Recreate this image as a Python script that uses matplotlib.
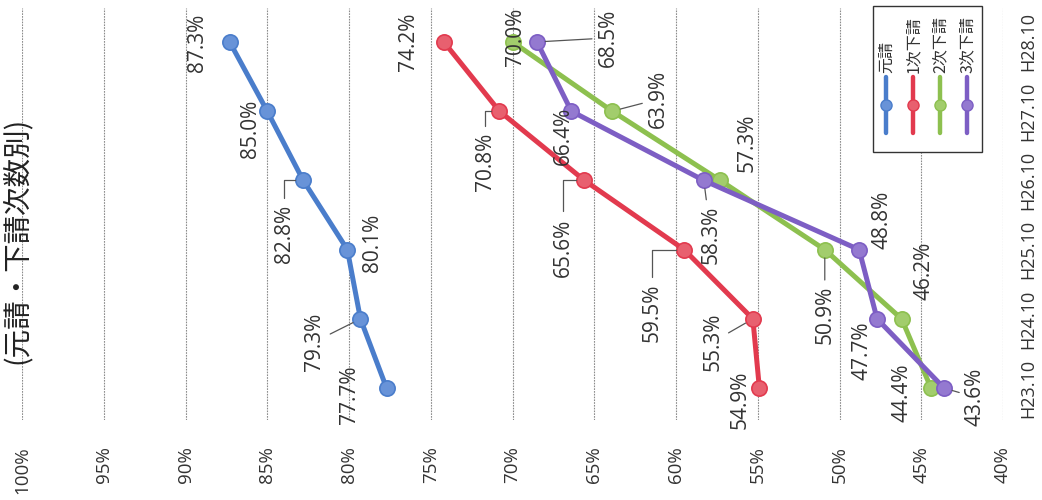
import matplotlib
matplotlib.use("Agg")
import matplotlib.pyplot as plt
from matplotlib.patches import Rectangle
from matplotlib.lines import Line2D

# --- data -------------------------------------------------------------
years = ["H23.10", "H24.10", "H25.10", "H26.10", "H27.10", "H28.10"]
series_names = ["元請", "1次下請", "2次下請", "3次下請"]
motouke = [77.7, 79.3, 80.1, 82.8, 85.0, 87.3]
shita1 = [54.9, 55.3, 59.5, 65.6, 70.8, 74.2]
shita2 = [44.4, 46.2, 50.9, 57.3, 63.9, 70.0]
shita3 = [43.6, 47.7, 48.8, 58.3, 66.4, 68.5]
value_ticks = [40, 45, 50, 55, 60, 65, 70, 75, 80, 85, 90, 95, 100]

# --- styling ----------------------------------------------------------
colors = ["#4A7DCB", "#E23A4E", "#8DC04F", "#7D5EC4"]
faces = ["#6893D8", "#E8606F", "#A2CD6C", "#9479D0"]
LABEL_FONT = "Open Sans"
CJK = ["Noto Sans CJK JP", "DejaVu Sans"]

# label offsets (pixels) for each point and leader style:
# 0 = none, 1 = straight leader, 2 = elbow leader
label_layout = [
    [(-37, -7, 0), (-46, -23, 1), (25, 7, 0),
     (-19, -54, 2), (-17, -18, 0), (-32, -1, 0)],
    [(-19, -12, 0), (-40, -23, 1), (-32, -63, 2),
     (-21, -67, 2), (-14, -51, 2), (-35, 0, 0)],
    [(-29, -5, 0), (22, 48, 0), (0, -65, 1),
     (27, 38, 0), (46, 12, 1), (3, 5, 0)],
    [(31, -9, 1), (-15, -32, 0), (23, 30, 0),
     (7, -54, 1), (-8, -25, 0), (71, 4, 1)],
]

W, H = 1042, 500
fig = plt.figure(figsize=(W / 100, H / 100), dpi=100)
fig.patch.set_facecolor("white")

# main plot: values run horizontally (100% on the left), years run upward
ax = fig.add_axes([22 / W, (H - 420) / H, (1003 - 22) / W, (420 - 8) / H])
ax.set_xlim(100, 40)
ax.set_ylim(-0.46, 5.49)
for s in ax.spines.values():
    s.set_visible(False)

ax.set_xticks(value_ticks)
ax.set_xticklabels([f"{v}%" for v in value_ticks], fontfamily=LABEL_FONT,
                   fontsize=13.5, color="#333333")
ax.tick_params(axis="x", length=0, pad=19, labelrotation=90)
ax.grid(axis="x", color="#8c8c8c", linestyle=(0, (1.5, 1)), linewidth=0.8)

ypos = list(range(len(years)))
ax.yaxis.tick_right()
ax.set_yticks(ypos)
ax.set_yticklabels(years, fontfamily=LABEL_FONT, fontsize=13, color="#333333")
ax.tick_params(axis="y", length=0, pad=12, labelrotation=90)
for lbl in ax.get_yticklabels():
    lbl.set_va("center")

all_series = [motouke, shita1, shita2, shita3]
for vals, col, face, layout in zip(all_series, colors, faces, label_layout):
    ax.plot(vals, ypos, color=col, linewidth=3.6, marker="o", markersize=11,
            markerfacecolor=face, markeredgecolor=col, markeredgewidth=1.2,
            zorder=3, solid_capstyle="round")
    for v, y, (dx, dy, leader) in zip(vals, ypos, layout):
        arrow = None
        if leader == 1:
            arrow = dict(arrowstyle="-", color="#555555", lw=0.9,
                         shrinkA=2, shrinkB=6)
        elif leader == 2:
            arrow = dict(arrowstyle="-", color="#555555", lw=0.9,
                         shrinkA=3, shrinkB=6,
                         connectionstyle="angle,angleA=90,angleB=0,rad=0")
        ax.annotate(f"{v:.1f}%", xy=(v, y), xytext=(dx, dy),
                    textcoords="offset pixels", rotation=90,
                    ha="center", va="center", fontsize=15,
                    fontfamily=LABEL_FONT, color="#333333",
                    arrowprops=arrow, zorder=4)

# title along the left edge
fig.text(2 / W, 1 - 240 / H, "(元請・下請次数別)", rotation=90,
         ha="left", va="center", fontsize=20.5, family=CJK, color="#222222")

# legend box in the upper right
lx0, lx1, ly0, ly1 = 873, 982, 6, 152
lax = fig.add_axes([lx0 / W, (H - ly1) / H, (lx1 - lx0) / W, (ly1 - ly0) / H])
lax.set_xlim(0, 1)
lax.set_ylim(0, 1)
lax.axis("off")
lax.add_patch(Rectangle((0, 0), 1, 1, facecolor="white", edgecolor="#333333",
                        linewidth=1.0, transform=lax.transAxes, clip_on=False))
entry_x = [0.12, 0.367, 0.615, 0.862]
for ex, name, col, face in zip(entry_x, series_names, colors, faces):
    lax.add_line(Line2D([ex, ex], [0.13, 0.514], color=col, linewidth=3.2,
                        solid_capstyle="round"))
    lax.add_line(Line2D([ex], [0.322], marker="o", markersize=8,
                        markerfacecolor=face, markeredgecolor=col,
                        markeredgewidth=1.0))
    lax.text(ex, 0.54, name, rotation=90, ha="center", va="bottom",
             fontsize=11.5, family=CJK, color="#333333")

fig.savefig("out.png", dpi=100, facecolor="white")
